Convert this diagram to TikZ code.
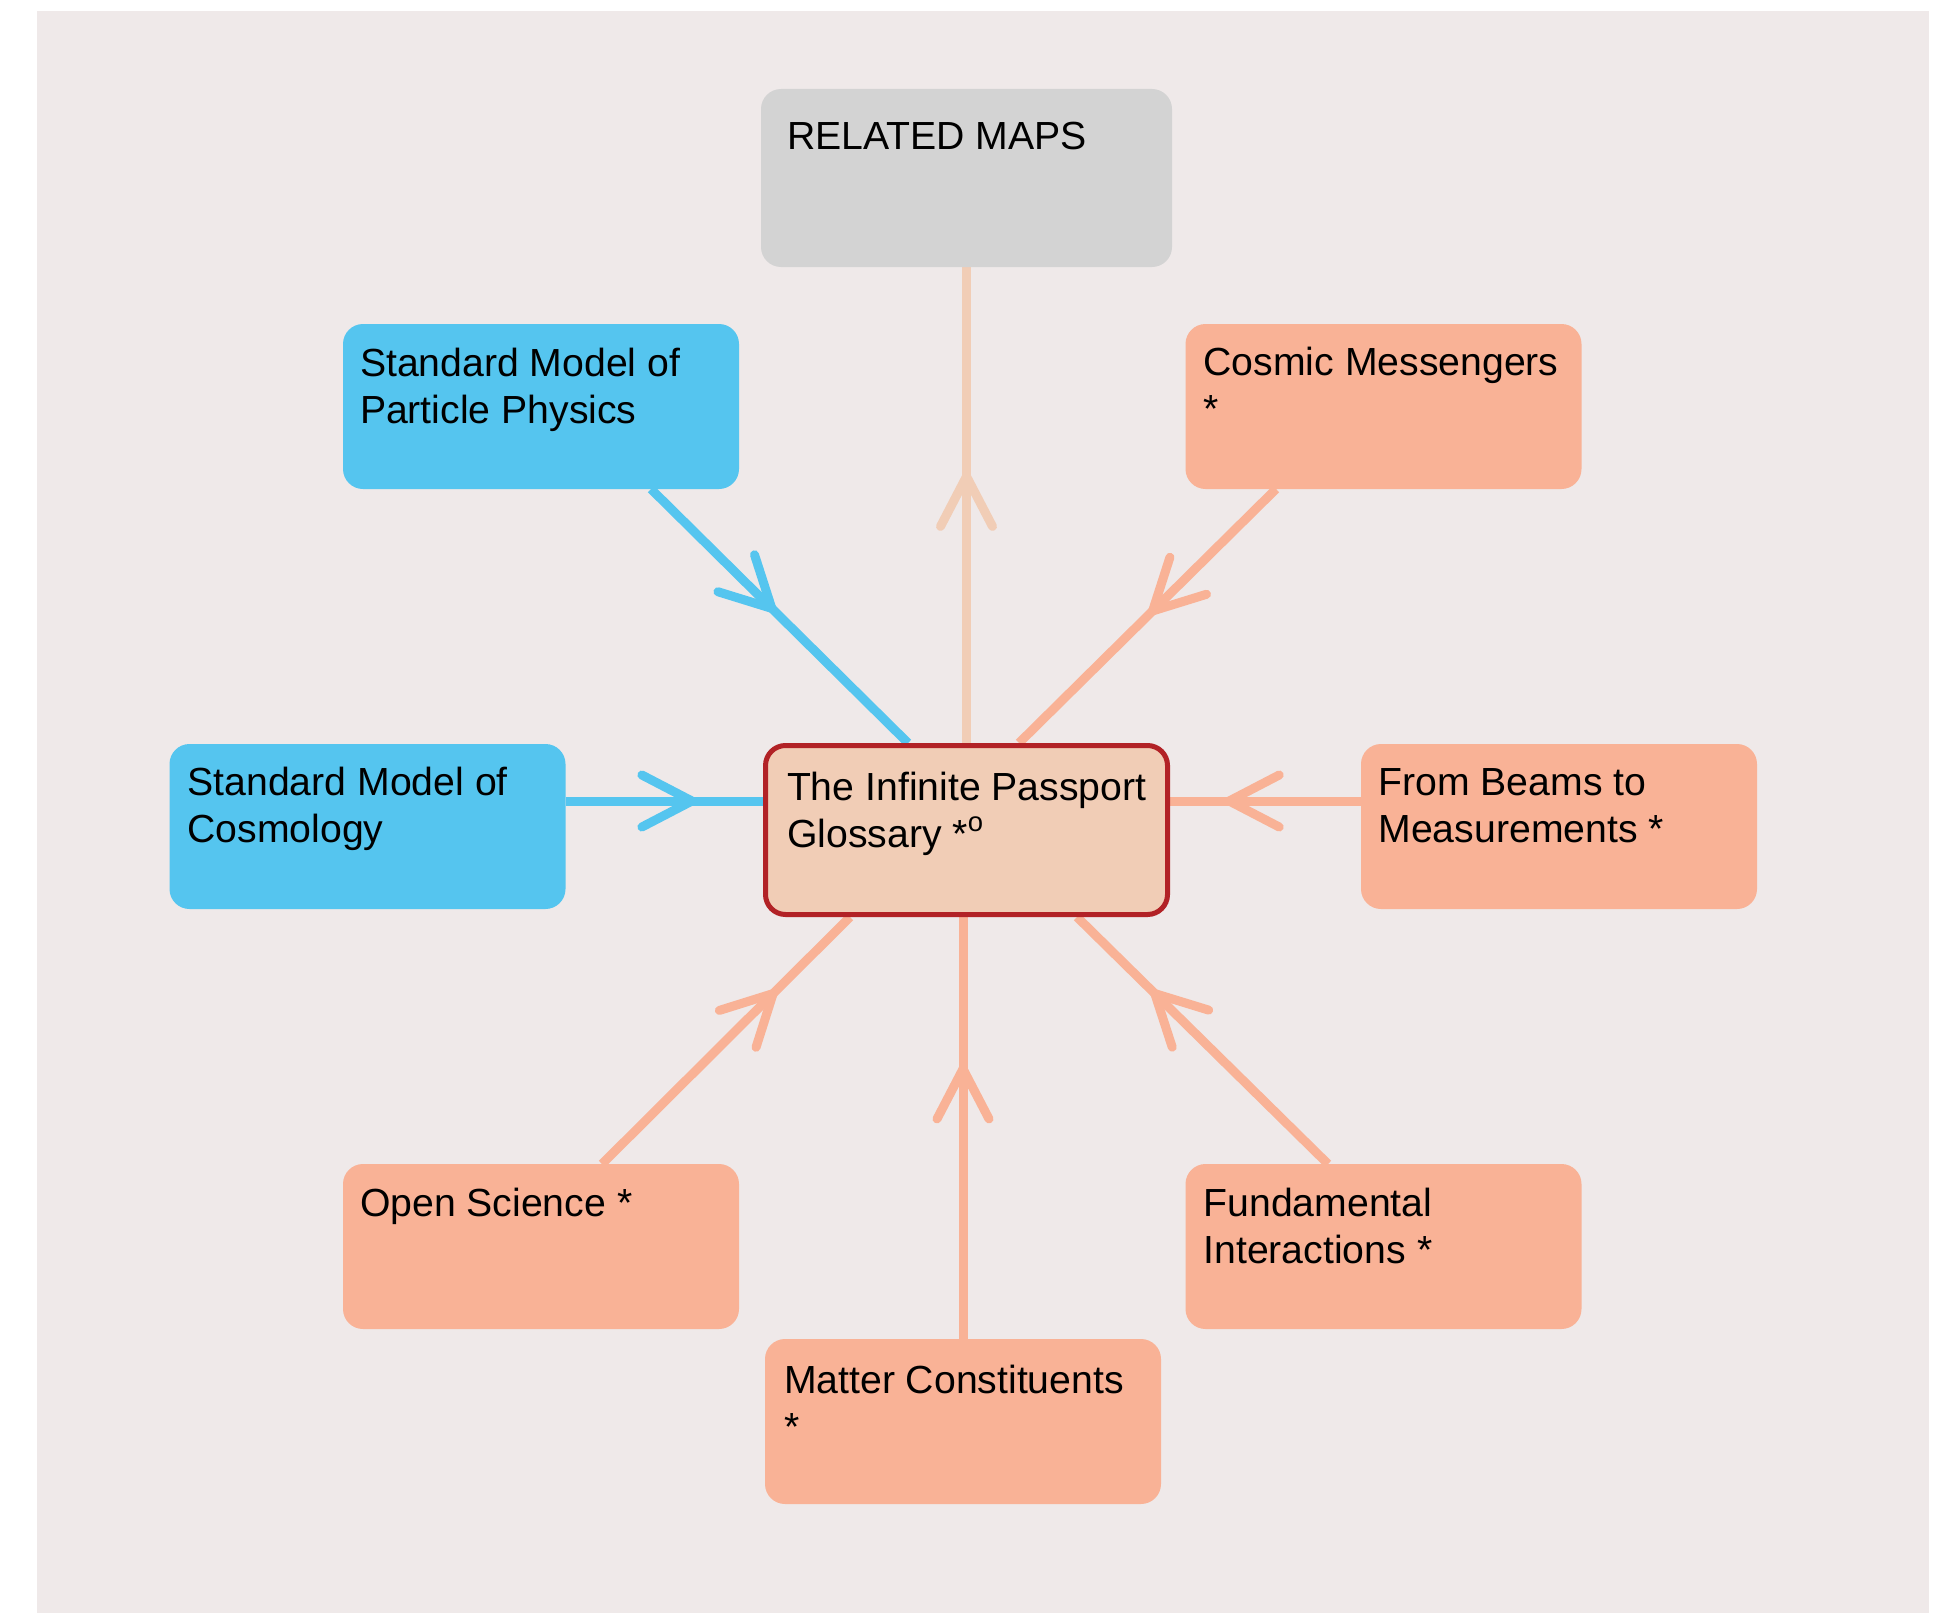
\documentclass[tikz,border=0pt]{standalone}
\usepackage{fontspec}
\setmainfont{Liberation Sans}
\usetikzlibrary{decorations.markings}
\definecolor{bgc}{HTML}{EFE9E9}
\definecolor{grayn}{HTML}{D3D3D3}
\definecolor{bluen}{HTML}{55C5EF}
\definecolor{salmon}{HTML}{F9B296}
\definecolor{peach}{HTML}{F1CDB6}
\definecolor{redb}{HTML}{B22226}
\newcommand\btext[5]{\parbox[c][#2][t]{#1}{\fontsize{19.6pt}{23.5pt}\selectfont\leftskip=#3\relax\rule{0pt}{#4}#5}}
\pgfdeclarelayer{bg}
\pgfsetlayers{bg,main}
\tikzset{
  box/.style={rectangle, rounded corners=10pt, inner sep=0pt, outer sep=0pt,
    minimum width=198pt, minimum height=82.5pt},
  salbox/.style={box, fill=salmon},
  bluebox/.style={box, fill=bluen},
  edge/.style={line width=4.5pt},
  vhead/.style={postaction={decorate}, decoration={markings,
    mark=at position #1 with {\draw[line cap=round, line join=round]
      (-25pt,13pt) -- (0pt,0pt) -- (-25pt,-13pt);}}}
}
\begin{document}
\begin{tikzpicture}[x=0.5pt,y=-0.5pt]
\useasboundingbox (0,0) rectangle (1937,1616);
% nodes
\node[box, fill=grayn, minimum width=205.5pt, minimum height=89pt] (rm) at (966.5,178)
  {\btext{205.5pt}{89pt}{13pt}{30pt}{RELATED MAPS}};
\node[bluebox] (smpp) at (541,406.5)
  {\btext{198pt}{82.5pt}{8.5pt}{26pt}{Standard Model of\\Particle Physics}};
\node[salbox] (cosmic) at (1383.5,406.5)
  {\btext{198pt}{82.5pt}{9pt}{25.5pt}{Cosmic Messengers\\{}*}};
\node[bluebox] (cosmo) at (367.5,826.5)
  {\btext{198pt}{82.5pt}{9pt}{25.5pt}{Standard Model of\\Cosmology}};
\node[box, fill=peach, draw=redb, line width=2.5pt, outer sep=1.25pt,
  minimum width=201pt, minimum height=84.5pt] (ctr) at (966.5,830)
  {\btext{201pt}{84.5pt}{10.75pt}{27.25pt}{The Infinite Passport\\Glossary *\textsuperscript{o}}};
\node[salbox] (beams) at (1559,826.5)
  {\btext{198pt}{82.5pt}{8.75pt}{25.5pt}{From Beams to\\Measurements *}};
\node[salbox] (open) at (541,1246.5)
  {\btext{198pt}{82.5pt}{8.5pt}{26pt}{Open Science *}};
\node[salbox] (fund) at (1383.5,1246.5)
  {\btext{198pt}{82.5pt}{9pt}{26pt}{Fundamental\\Interactions *}};
\node[salbox] (matter) at (963,1421.5)
  {\btext{198pt}{82.5pt}{9.5pt}{27pt}{Matter Constituents\\{}*}};
% background and connectors
\begin{pgfonlayer}{bg}
\fill[white] (0,0) rectangle (1937,1616);
\fill[bgc] (37,11) rectangle (1929,1613);
\draw[edge, peach, vhead=0.56] (ctr.north) -- (rm.south);
\draw[edge, bluen, vhead=0.47] ([xshift=55pt]smpp.south) -- ([xshift=-29.25pt]ctr.north);
\draw[edge, salmon, vhead=0.48] ([xshift=-53.75pt]cosmic.south) -- ([xshift=26.25pt]ctr.north);
\draw[edge, bluen, vhead=0.64] ([yshift=12.75pt]cosmo.east) coordinate (c4) -- (c4 -| ctr.west);
\draw[edge, salmon, vhead=0.69] ([yshift=12.75pt]beams.west) coordinate (c5) -- (c5 -| ctr.east);
\draw[edge, salmon, vhead=0.69] ([xshift=30.5pt]open.north) -- ([xshift=-58.25pt]ctr.south);
\draw[edge, salmon, vhead=0.69] ([xshift=-27.75pt]fund.north) -- ([xshift=55.25pt]ctr.south);
\draw[edge, salmon, vhead=0.64] (matter.north) -- (matter.north |- ctr.south);
\end{pgfonlayer}
\end{tikzpicture}
\end{document}
